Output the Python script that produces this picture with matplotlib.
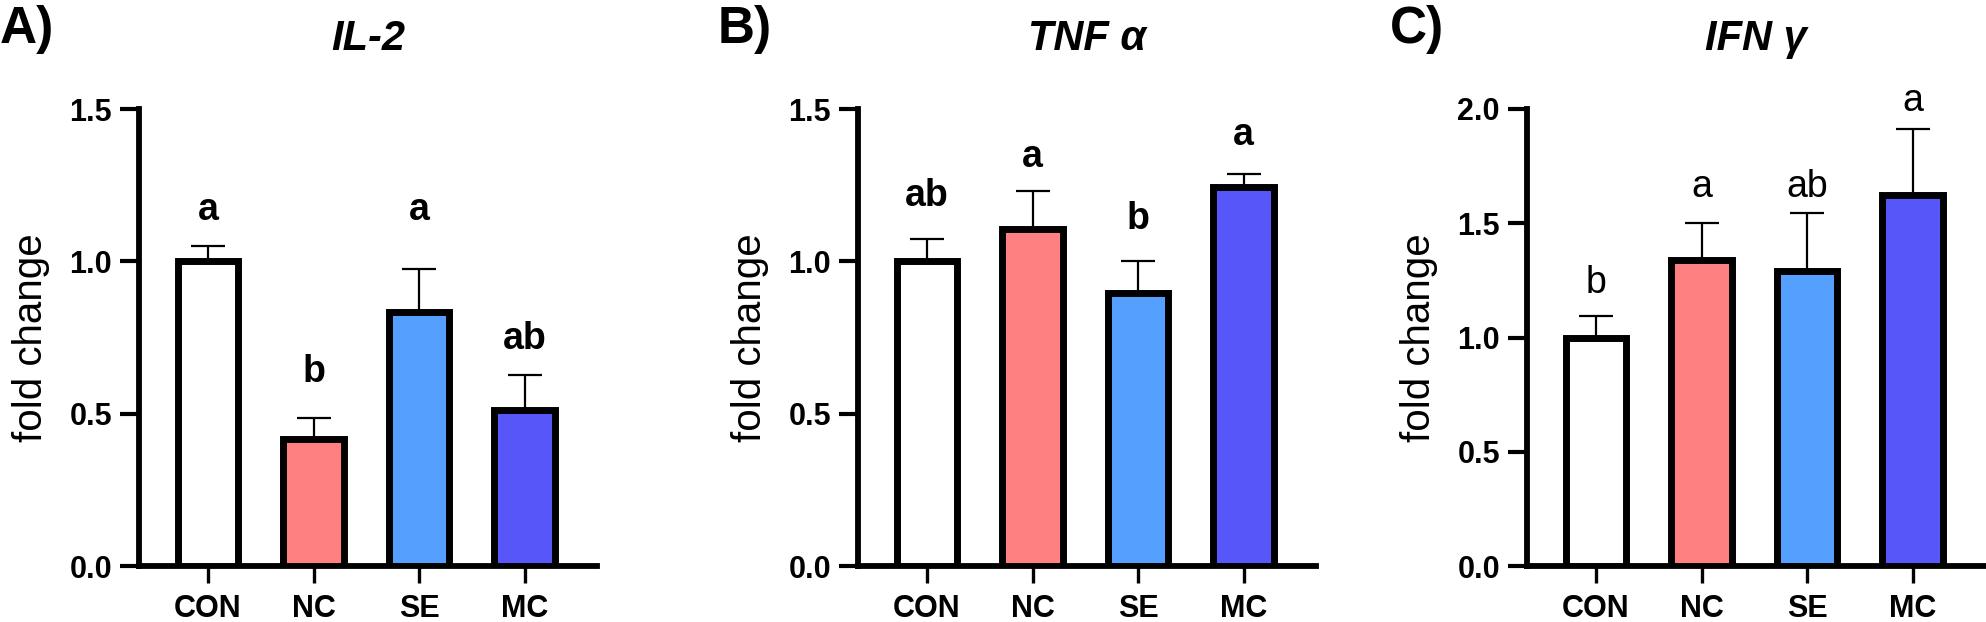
import matplotlib
matplotlib.use("Agg")
import matplotlib.pyplot as plt
import numpy as np

plt.rcParams['font.family'] = ['Liberation Sans', 'DejaVu Sans']

groups = ["CON", "NC", "SE", "MC"]
colors = ["#FFFFFF", "#FF8080", "#559FFF", "#5656F9"]

panels = ["A)", "B)", "C)"]
titles = ["IL-2", "TNF α", "IFN γ"]

il2_mean = [1.00, 0.417, 0.835, 0.511]
il2_err = [0.050, 0.068, 0.141, 0.115]
il2_letters = ["a", "b", "a", "ab"]
il2_letter_y = [1.135, 0.604, 1.135, 0.711]

tnf_mean = [1.00, 1.106, 0.897, 1.243]
tnf_err = [0.072, 0.124, 0.105, 0.044]
tnf_letters = ["ab", "a", "b", "a"]
tnf_letter_y = [1.183, 1.311, 1.105, 1.383]

ifn_mean = [1.00, 1.339, 1.290, 1.623]
ifn_err = [0.092, 0.161, 0.253, 0.288]
ifn_letters = ["b", "a", "ab", "a"]
ifn_letter_y = [1.195, 1.617, 1.617, 1.990]

means = [il2_mean, tnf_mean, ifn_mean]
errs = [il2_err, tnf_err, ifn_err]
letters = [il2_letters, tnf_letters, ifn_letters]
letter_ys = [il2_letter_y, tnf_letter_y, ifn_letter_y]
ymaxs = [1.5, 1.5, 2.0]
yticks = [[0.0, 0.5, 1.0, 1.5], [0.0, 0.5, 1.0, 1.5], [0.0, 0.5, 1.0, 1.5, 2.0]]
letter_bold = [True, True, False]

W, H = 1986, 622
fig = plt.figure(figsize=(W / 100, H / 100), dpi=100)

lefts = [139, 858, 1527]
axw = 458
bottom_px, top_px = 566, 109

for i in range(3):
    ax = fig.add_axes([lefts[i] / W, 1 - bottom_px / H, axw / W, (bottom_px - top_px) / H])
    x = np.arange(len(groups))
    ax.bar(x, means[i], width=0.57, color=colors, edgecolor="black", linewidth=5, zorder=3)
    ax.errorbar(x, means[i], yerr=[np.zeros(4), errs[i]], fmt="none", ecolor="black",
                elinewidth=1.6, capsize=12, capthick=1.6, zorder=2)
    for xi, lab, ly in zip(x, letters[i], letter_ys[i]):
        ax.text(xi, ly, lab, ha="center", va="baseline", fontsize=27,
                fontweight="bold" if letter_bold[i] else "normal", zorder=4)
    ax.set_xlim(-0.654, 3.687)
    ax.set_ylim(0, ymaxs[i])
    ax.set_yticks(yticks[i])
    ax.set_yticklabels([f"{t:.1f}" for t in yticks[i]], fontsize=22, fontweight="bold")
    ax.set_xticks(x)
    ax.set_xticklabels(groups, fontsize=22, fontweight="bold")
    ax.spines["top"].set_visible(False)
    ax.spines["right"].set_visible(False)
    for s in ["left", "bottom"]:
        ax.spines[s].set_linewidth(4.2)
        ax.spines[s].set_capstyle("projecting")
    ax.tick_params(axis="y", length=13.5, width=3.0, pad=6)
    ax.tick_params(axis="x", length=12, width=2.4, pad=8)
    ax.set_ylabel("fold change", fontsize=29, labelpad=14)
    ax.patch.set_visible(False)
    cx = (lefts[i] + axw / 2) / W
    fig.text(cx, 1 - 50 / H, titles[i], fontsize=30, fontweight="bold", fontstyle="italic",
             ha="center", va="baseline")

label_x = [0, 718, 1390]
for i in range(3):
    fig.text(label_x[i] / W, 1 - 43 / H, panels[i], fontsize=37, fontweight="bold",
             ha="left", va="baseline")

fig.savefig("out.png", dpi=100)
